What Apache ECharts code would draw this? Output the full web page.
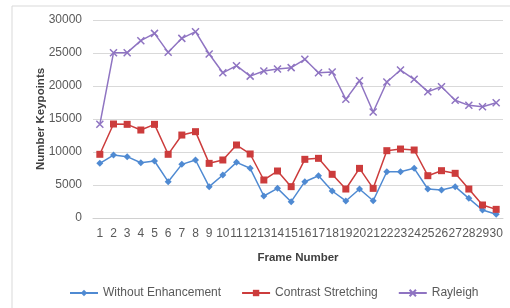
<!DOCTYPE html>
<html>
<head>
<meta charset="utf-8">
<script src="https://cdn.jsdelivr.net/npm/echarts@6/dist/echarts.min.js"></script>
<style>
  html, body { margin: 0; padding: 0; background: #fff; }
  #chart { width: 510px; height: 308px; }
</style>
</head>
<body>
<div id="chart"></div>
<script>
var frames = [];
for (var i = 1; i <= 30; i++) frames.push(String(i));

var withoutEnh = [8280, 9540, 9290, 8380, 8640, 5500, 8130, 8790, 4750, 6510,
                  8430, 7530, 3330, 4490, 2470, 5500, 6410, 4090, 2580, 4390,
                  2620, 7010, 7010, 7530, 4390, 4240, 4750, 2980, 1210, 560];
var contrast = [9650, 14240, 14190, 13330, 14190, 9650, 12570, 13080, 8280, 8790,
                11060, 9700, 5760, 7120, 4750, 8890, 9040, 6620, 4390, 7520,
                4490, 10200, 10450, 10300, 6410, 7170, 6770, 4390, 1970, 1310];
var rayleigh = [14200, 25050, 25050, 26870, 27970, 25100, 27220, 28230, 24850, 22000,
                23080, 21500, 22270, 22570, 22780, 24040, 22020, 22120, 17980, 20800,
                16060, 20600, 22420, 21010, 19140, 19900, 17830, 17070, 16860, 17470];

var chart = echarts.init(document.getElementById('chart'));
var font = '"Liberation Sans", Arial, sans-serif';

var option = {
  animation: false,
  graphic: [{
    type: 'rect',
    shape: { x: 12, y: 6, width: 600, height: 400 },
    style: { fill: 'none', stroke: '#d9d9d9', lineWidth: 1 },
    silent: true
  }],
  grid: { left: 93, right: 7, top: 20, bottom: 90 },
  legend: {
    bottom: 4,
    left: 64,
    itemGap: 20,
    itemWidth: 28,
    itemHeight: 8,
    textStyle: { fontFamily: font, fontSize: 12, color: '#595959' },
    data: ['Without Enhancement', 'Contrast Stretching', 'Rayleigh']
  },
  xAxis: {
    type: 'category',
    data: frames,
    boundaryGap: true,
    name: 'Frame Number',
    nameLocation: 'middle',
    nameGap: 34,
    nameTextStyle: { fontFamily: font, fontSize: 11.5, fontWeight: 'bold', color: '#404040' },
    axisLine: { lineStyle: { color: '#d0d0d0' } },
    axisTick: { show: false },
    axisLabel: { interval: 0, fontFamily: font, fontSize: 12, color: '#595959', margin: 10 }
  },
  yAxis: {
    type: 'value',
    min: 0,
    max: 30000,
    interval: 5000,
    name: 'Number Keypoints',
    nameLocation: 'middle',
    nameGap: 46,
    nameMoveOverlap: false,
    nameTextStyle: { fontFamily: font, fontSize: 11.5, fontWeight: 'bold', color: '#404040' },
    axisLine: { show: false },
    axisTick: { show: false },
    axisLabel: {
      fontFamily: font, fontSize: 12, color: '#595959', margin: 11,
      formatter: function (v) { return String(v); }
    },
    splitLine: { lineStyle: { color: '#d9d9d9', width: 1 } }
  },
  series: [{
    name: 'Without Enhancement',
    type: 'line',
    data: withoutEnh,
    color: '#4f8ad2',
    symbol: 'diamond',
    symbolSize: 7,
    lineStyle: { width: 1.5 }
  }, {
    name: 'Contrast Stretching',
    type: 'line',
    data: contrast,
    color: '#cc3c3c',
    symbol: 'rect',
    symbolSize: 7,
    lineStyle: { width: 1.5 }
  }, {
    name: 'Rayleigh',
    type: 'line',
    data: rayleigh,
    color: '#8f74c2',
    symbol: 'path://M0,0L10,10M10,0L0,10',
    symbolSize: 7,
    itemStyle: { borderColor: '#8f74c2', borderWidth: 1.5 },
    lineStyle: { width: 1.5 }
  }]
};
chart.setOption(option);
</script>
</body>
</html>
